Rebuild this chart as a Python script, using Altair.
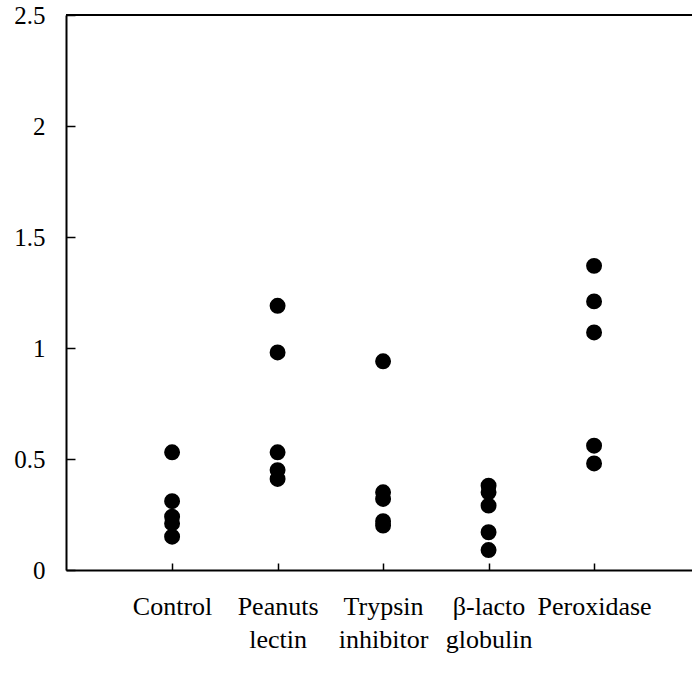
import altair as alt
import pandas as pd

groups = ["Control", "Peanuts lectin", "Trypsin inhibitor", "β-lacto globulin", "Peroxidase"]
control = [0.53, 0.31, 0.24, 0.21, 0.15]
peanuts = [1.19, 0.98, 0.53, 0.45, 0.41]
trypsin = [0.94, 0.35, 0.32, 0.22, 0.20]
blacto = [0.38, 0.35, 0.29, 0.17, 0.09]
peroxidase = [1.37, 1.21, 1.07, 0.56, 0.48]
y_ticks = [0, 0.5, 1, 1.5, 2, 2.5]

rows = []
for g, vals in zip(groups, [control, peanuts, trypsin, blacto, peroxidase]):
    for v in vals:
        rows.append({"group": g, "value": v})
df = pd.DataFrame(rows)

FONT = "Liberation Serif"
xscale = alt.Scale(domain=groups, padding=0.967, align=0.52)
yscale = alt.Scale(domain=[0, 2.5], nice=False, zero=True)

points = alt.Chart(df).mark_circle(size=254, color="black", opacity=1).encode(
    x=alt.X("group:N", scale=xscale, sort=groups,
            axis=alt.Axis(title=None, labelExpr="split(datum.value, ' ')", labelAngle=0,
                          ticks=False, domainColor="black", domainWidth=2, grid=False,
                          labelFont=FONT, labelFontSize=26, labelColor="black",
                          labelPadding=23, labelLineHeight=33, orient="bottom")),
    y=alt.Y("value:Q", scale=yscale,
            axis=alt.Axis(title=None, values=y_ticks, format="~g", ticks=False,
                          domainColor="black", domainWidth=2, grid=False,
                          labelFont=FONT, labelFontSize=25, labelColor="black",
                          labelPadding=21, orient="left")),
)

ticks = alt.Chart(df).mark_circle(opacity=0).encode(
    x=alt.X("group:N", scale=xscale, sort=groups,
            axis=alt.Axis(title=None, orient="top", offset=-555, labels=False, domain=False,
                          ticks=True, tickSize=7, tickColor="black", tickWidth=1.5, grid=False)),
    y=alt.Y("value:Q", scale=yscale,
            axis=alt.Axis(title=None, orient="right", offset=-626, labels=False, domain=False,
                          values=y_ticks, ticks=True, tickSize=9, tickColor="black",
                          tickWidth=1.5, grid=False)),
)

top = alt.Chart(pd.DataFrame({"y": [2.5]})).mark_rule(color="black", strokeWidth=2).encode(
    y=alt.Y("y:Q", scale=yscale, axis=None)
)

chart = alt.layer(points, ticks, top).resolve_axis(x="independent", y="independent").properties(
    width=626, height=555,
    padding={"left": 66, "top": 15, "right": 0, "bottom": 103},
    autosize="none",
).configure_view(stroke=None).configure(background="white")

chart.save("out.html", embed_options={"renderer": "svg", "actions": False})
